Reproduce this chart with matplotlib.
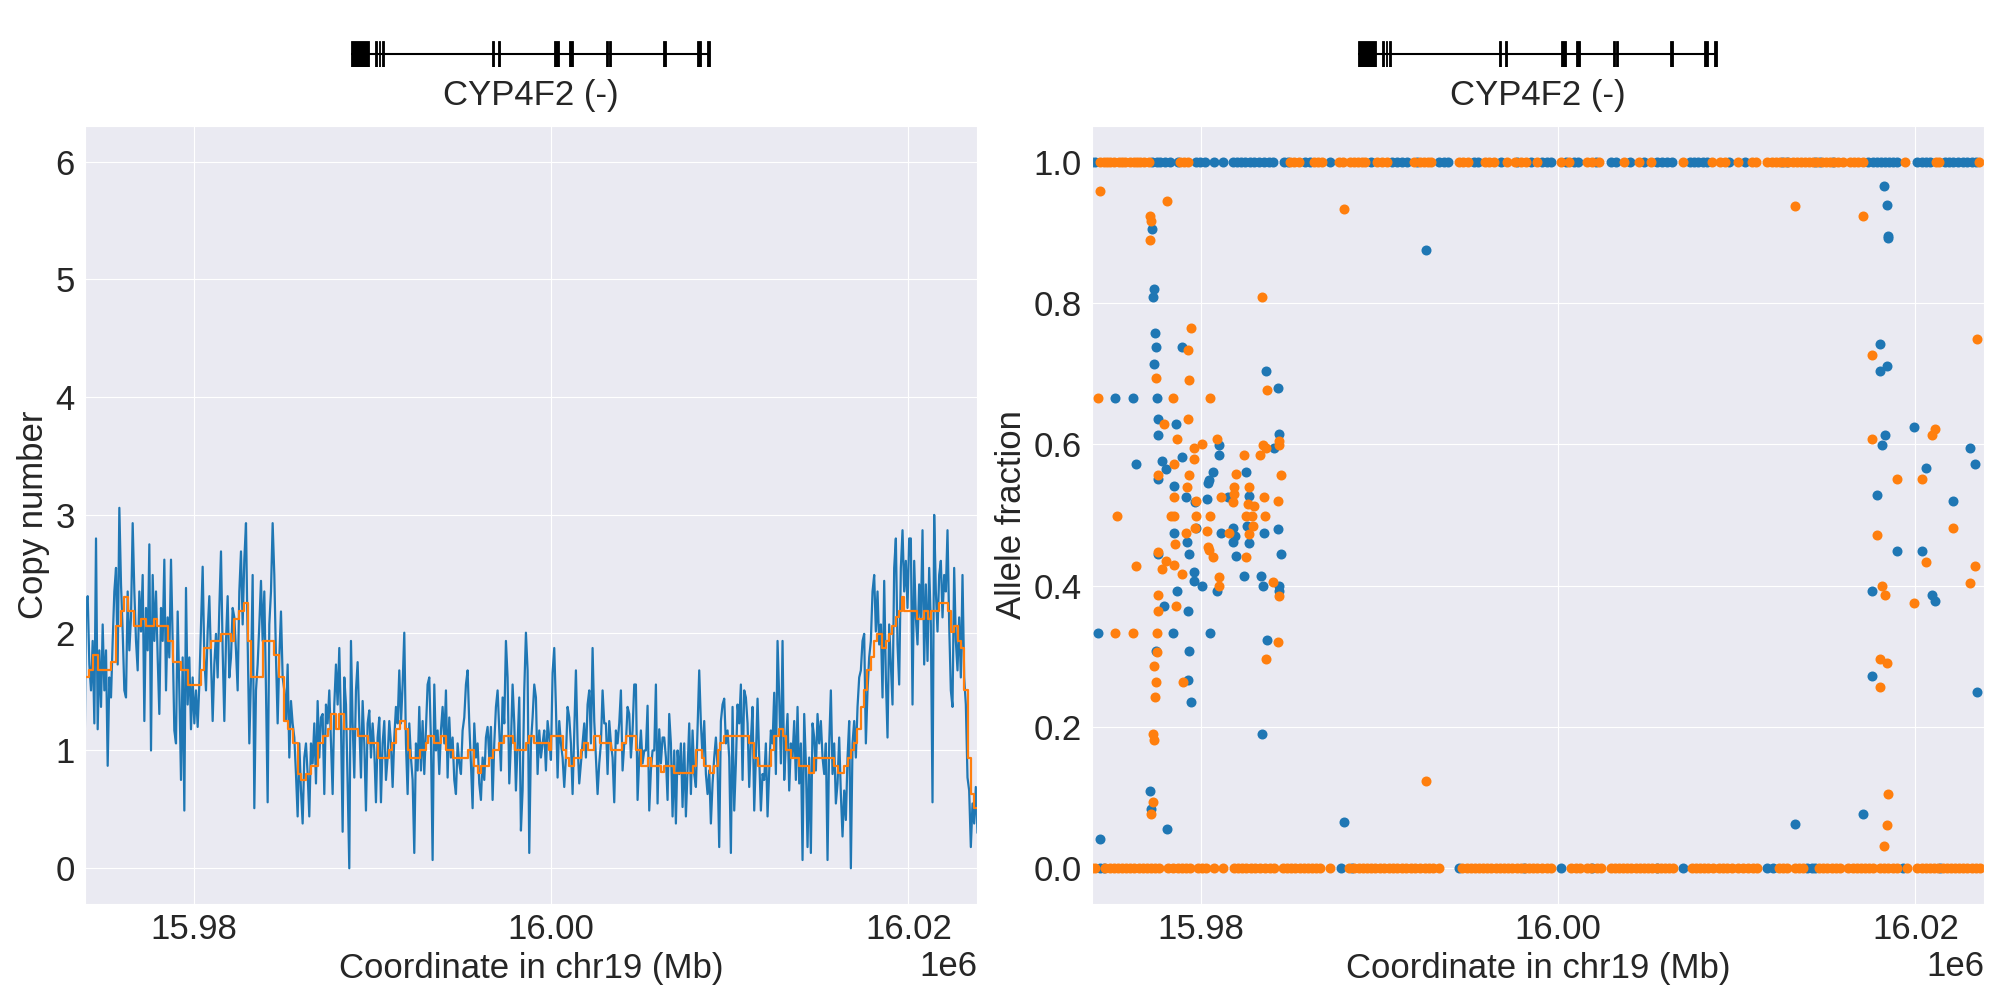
import matplotlib
matplotlib.use('Agg')
import matplotlib.pyplot as plt
from matplotlib.patches import Rectangle
import numpy as np
import seaborn as sns

region = (15973900, 16023840)
gene_label = 'CYP4F2 (-)'
gene_start, gene_end = 15988834, 16008884
exon_starts = [15988834, 15990150, 15990350, 15990555, 15996725, 15997020,
               16000160, 16001010, 16003060, 16003262, 16006255, 16008150, 16008725]
exon_ends = [15989790, 15990250, 15990455, 15990675, 15996810, 15997125,
             16000435, 16001215, 16003165, 16003370, 16006420, 16008390, 16008884]

# copy number, one value per bin
cn_start = 15973886
cn_step = 93.25
cn_values = [
    0.69, 2.24, 2.31, 1.73, 1.51, 1.93, 1.23, 2.80, 1.18, 1.85,
    1.37, 2.07, 1.51, 1.85, 0.87, 1.62, 1.45, 1.93, 2.35, 2.55,
    1.73, 3.06, 2.41, 2.01, 1.51, 1.45, 2.35, 1.85, 2.13, 2.93,
    2.35, 1.93, 1.68, 2.35, 2.01, 2.49, 1.25, 2.21, 1.85, 2.75,
    1.00, 2.49, 1.93, 2.35, 1.79, 1.31, 2.21, 1.93, 2.62, 1.51,
    2.13, 1.79, 2.62, 1.93, 1.17, 1.06, 2.18, 1.51, 0.75, 1.79,
    0.49, 2.38, 1.39, 1.79, 1.18, 1.62, 1.23, 1.51, 1.20, 1.56,
    2.07, 2.56, 1.79, 1.51, 2.01, 2.31, 1.79, 1.25, 1.73, 1.99,
    1.62, 2.21, 2.69, 1.85, 1.25, 1.93, 2.31, 1.62, 1.79, 2.21,
    2.13, 1.85, 1.51, 2.35, 2.69, 2.07, 2.62, 2.93, 1.93, 1.06,
    1.62, 2.49, 0.51, 1.51, 1.73, 2.07, 2.44, 1.93, 2.35, 1.51,
    0.56, 2.07, 2.35, 2.93, 2.49, 1.79, 1.23, 1.79, 2.18, 1.62,
    1.51, 1.25, 1.73, 0.94, 1.42, 1.23, 1.11, 0.80, 0.44, 1.06,
    0.66, 0.38, 0.94, 1.06, 0.80, 0.44, 1.06, 0.89, 1.23, 0.72,
    1.42, 0.94, 1.28, 1.31, 0.63, 1.39, 1.23, 1.51, 1.08, 0.63,
    1.39, 1.73, 1.39, 1.87, 1.23, 0.31, 1.62, 1.39, 0.72, 0.00,
    1.93, 1.23, 0.77, 1.51, 1.75, 1.23, 0.77, 1.42, 1.06, 0.49,
    1.23, 1.34, 0.94, 1.23, 1.00, 0.56, 1.11, 1.28, 0.56, 1.06,
    1.25, 0.75, 0.94, 1.25, 1.06, 0.69, 1.11, 1.37, 1.23, 1.68,
    1.23, 1.56, 2.00, 1.06, 0.63, 1.23, 0.94, 0.75, 0.13, 1.06,
    0.83, 1.37, 0.83, 1.25, 0.80, 1.17, 1.56, 1.62, 1.08, 0.07,
    1.56, 1.00, 1.17, 0.80, 1.17, 1.37, 1.06, 1.51, 0.77, 1.28,
    0.94, 1.11, 0.75, 0.63, 1.06, 0.89, 0.80, 1.17, 1.28, 1.56,
    1.68, 1.23, 0.89, 0.51, 1.23, 0.94, 1.06, 0.72, 0.58, 0.94,
    0.75, 1.11, 1.20, 0.94, 1.20, 0.58, 1.06, 1.37, 1.51, 1.17,
    0.83, 1.45, 1.23, 1.93, 1.62, 0.72, 1.06, 1.56, 1.23, 0.66,
    1.06, 1.45, 0.32, 0.66, 1.51, 2.00, 1.68, 0.13, 1.06, 1.28,
    1.56, 1.45, 0.80, 1.17, 0.94, 1.06, 1.17, 0.83, 1.25, 1.11,
    0.92, 1.66, 1.87, 1.37, 0.77, 1.25, 1.06, 0.94, 0.69, 0.94,
    1.37, 1.28, 1.06, 0.63, 1.17, 1.68, 1.06, 0.72, 0.89, 1.06,
    1.23, 0.94, 1.39, 1.51, 1.06, 1.87, 1.25, 0.94, 0.63, 0.89,
    1.06, 1.51, 1.23, 1.23, 0.80, 1.25, 1.06, 0.94, 0.56, 1.17,
    1.06, 1.23, 1.51, 0.83, 1.06, 1.06, 1.37, 1.31, 0.94, 1.17,
    1.56, 1.56, 0.58, 0.94, 1.17, 0.89, 1.00, 1.00, 1.38, 0.49,
    0.83, 1.00, 1.00, 1.56, 0.55, 1.18, 0.89, 1.11, 1.11, 0.94,
    0.58, 1.31, 1.06, 0.44, 1.00, 0.38, 1.00, 0.80, 1.06, 0.52,
    1.06, 0.44, 0.83, 1.23, 0.63, 1.17, 0.80, 0.69, 1.17, 1.68,
    1.23, 0.94, 1.25, 0.80, 0.63, 0.83, 0.38, 0.72, 0.94, 1.11,
    0.86, 0.18, 1.25, 1.39, 1.44, 1.06, 1.17, 0.94, 0.13, 1.37,
    0.49, 0.89, 1.39, 1.23, 1.56, 0.75, 1.51, 1.45, 1.23, 0.69,
    1.08, 1.37, 0.49, 0.94, 1.44, 0.94, 0.49, 0.80, 0.75, 1.06,
    0.44, 0.83, 1.17, 1.06, 1.49, 0.80, 1.93, 1.45, 0.89, 1.93,
    0.75, 1.06, 1.31, 0.66, 1.06, 0.94, 1.25, 0.75, 1.37, 0.72,
    1.06, 0.07, 1.31, 0.89, 0.18, 0.94, 0.13, 1.23, 1.11, 0.83,
    1.31, 1.06, 1.25, 0.94, 0.80, 1.06, 0.07, 1.06, 1.51, 0.80,
    1.06, 0.55, 0.72, 1.11, 0.63, 0.27, 0.66, 0.41, 0.94, 1.25,
    0.00, 1.06, 1.25, 0.94, 1.37, 1.62, 1.68, 1.93, 1.99, 1.06,
    1.51, 1.79, 1.93, 2.35, 2.49, 2.01, 2.35, 1.90, 2.07, 1.45,
    2.44, 1.62, 1.11, 2.07, 1.73, 1.39, 2.55, 2.80, 1.90, 1.56,
    2.55, 2.87, 2.35, 2.61, 2.21, 2.80, 2.80, 1.39, 2.61, 2.13,
    1.90, 2.41, 2.13, 2.87, 1.73, 2.41, 1.76, 2.55, 2.07, 0.56,
    3.00, 2.35, 2.01, 2.49, 2.61, 2.13, 2.49, 2.35, 2.87, 2.07,
    1.51, 1.37, 2.55, 1.93, 1.68, 2.13, 1.62, 2.49, 1.62, 1.39,
    0.77, 0.66, 0.18, 0.55, 0.38, 0.69, 0.30,
]

# smoothed copy number segments (start position, level)
seg_starts = [
    15973890, 15974170, 15974350, 15974630, 15975380, 15975660, 15975940, 15976120,
    15976310, 15976680, 15977060, 15977340, 15977770, 15977950, 15978550, 15978830,
    15979300, 15979670, 15980410, 15980600, 15980970, 15981530, 15982090, 15982280,
    15982560, 15982800, 15983060, 15983210, 15983860, 15984520, 15984800, 15985080,
    15985260, 15985540, 15985820, 15986010, 15986290, 15986570, 15986940, 15987220,
    15987500, 15987690, 15987970, 15988150, 15988430, 15989180, 15989740, 15990300,
    15990670, 15990950, 15991080, 15991320, 15991570, 15991830, 15991980, 15992130,
    15992690, 15993000, 15993130, 15993470, 15993840, 15994120, 15994490, 15995330,
    15995710, 15995890, 15996080, 15996550, 15996730, 15997110, 15997390, 15997850,
    15997980, 15998600, 15998780, 15999030, 15999900, 16000000, 16000650, 16000840,
    16001020, 16001300, 16001680, 16001860, 16002050, 16002420, 16002760, 16003350,
    16003950, 16004190, 16004750, 16005030, 16005410, 16005590, 16006150, 16006340,
    16006900, 16007460, 16007920, 16008110, 16008430, 16008580, 16008910, 16009130,
    16009320, 16009470, 16009690, 16011090, 16011370, 16011560, 16012310, 16012490,
    16012770, 16012960, 16013140, 16013420, 16013890, 16014450, 16014730, 16015850,
    16016040, 16016410, 16016600, 16016780, 16016970, 16017150, 16017340, 16017530,
    16017710, 16017900, 16018090, 16018270, 16018550, 16018740, 16018930, 16019110,
    16019300, 16019490, 16019670, 16019770, 16020510, 16020850, 16021070, 16021260,
    16021720, 16022190, 16022380, 16022560, 16022750, 16022940, 16023120, 16023310,
    16023500, 16023680,
]
seg_levels = [
    1.62, 1.68, 1.81, 1.68, 1.75, 2.06, 2.18, 2.30,
    2.18, 2.06, 2.12, 2.06, 2.12, 2.06, 1.93, 1.75,
    1.68, 1.56, 1.68, 1.87, 1.93, 1.99, 1.93, 2.12,
    2.18, 2.25, 1.93, 1.62, 1.93, 1.81, 1.62, 1.25,
    1.18, 1.06, 0.80, 0.75, 0.80, 0.87, 1.06, 1.12,
    1.18, 1.31, 1.18, 1.31, 1.18, 1.12, 1.06, 0.94,
    0.94, 1.00, 1.06, 1.18, 1.25, 1.18, 1.00, 0.94,
    1.00, 1.06, 1.12, 1.06, 1.12, 1.00, 0.94, 1.00,
    0.87, 0.81, 0.87, 0.94, 1.00, 1.06, 1.12, 1.06,
    1.00, 1.06, 1.12, 1.06, 1.00, 1.12, 1.00, 0.94,
    0.87, 0.94, 1.00, 1.06, 1.00, 1.12, 1.06, 1.00,
    1.06, 1.12, 1.00, 0.87, 0.94, 0.87, 0.82, 0.87,
    0.81, 0.81, 0.87, 1.00, 0.94, 0.87, 0.81, 0.87,
    1.00, 1.06, 1.12, 1.06, 0.94, 0.87, 1.00, 1.12,
    1.18, 1.12, 1.00, 0.94, 0.87, 0.81, 0.94, 0.87,
    0.81, 0.87, 0.94, 1.00, 1.06, 1.18, 1.37, 1.51,
    1.68, 1.79, 1.93, 1.99, 1.87, 1.93, 1.99, 2.06,
    2.13, 2.18, 2.30, 2.18, 2.12, 2.18, 2.12, 2.18,
    2.25, 2.18, 2.01, 2.06, 1.93, 1.87, 1.51, 0.94,
    0.63, 0.51,
]
seg_end = 16023900

# allele fraction: variants sitting at 1.0 and 0.0
blue_top_pos = [
    15973920, 15974110, 15977280, 15977560, 15977740, 15978020, 15978300, 15978710,
    15979760, 15979980, 15980260, 15980760, 15981250, 15981810, 15982030, 15982260,
    15982500, 15982740, 15982970, 15983250, 15983520, 15983800, 15984050, 15984640,
    15984870, 15985860, 15986140, 15987220, 15989530, 15990700, 15990980, 15991260,
    15991540, 15992100, 15993320, 15993620, 15993850, 15995300, 15995520, 15996790,
    15997720, 15998470, 15999120, 15999370, 15999630, 16000430, 16000900, 16001120,
    16002110, 16002950, 16003230, 16004030, 16004810, 16005560, 16005840, 16006120,
    16006400, 16007390, 16007620, 16007860, 16008100, 16008320, 16009590, 16010470,
    16012520, 16012800, 16014390, 16014670, 16015410, 16017370, 16017610, 16017840,
    16018060, 16018300, 16018550, 16018770, 16018990, 16020110, 16020350, 16020600,
    16020820, 16021660, 16021900, 16022130, 16022410, 16022690, 16022910, 16023150,
    16023390,
]
orange_top_pos = [
    15974390, 15974570, 15974760, 15974950, 15975170, 15975410, 15975600, 15975790,
    15976030, 15976250, 15976440, 15976620, 15976850, 15977090, 15978860, 15979050,
    15979270, 15984980, 15985240, 15985480, 15986360, 15986580, 15986790, 15987720,
    15987960, 15988370, 15988600, 15988800, 15989030, 15989210, 15989870, 15990150,
    15990430, 15991920, 15992250, 15992480, 15992700, 15992890, 15994460, 15994700,
    15994960, 15995900, 15996140, 15996420, 15997170, 15997580, 15997910, 15998190,
    15998810, 16000150, 16000620, 16001640, 16001920, 16002290, 16003690, 16004530,
    16005190, 16006980, 16008600, 16009070, 16009350, 16010100, 16010840, 16011090,
    16011720, 16011960, 16012200, 16012430, 16012650, 16012890, 16013140, 16013360,
    16013580, 16013830, 16014070, 16014290, 16014520, 16014760, 16015000, 16015230,
    16015450, 16015690, 16015930, 16016340, 16016570, 16016810, 16017050, 16019420,
    16021160, 16021340, 16023540,
]
blue_bottom_pos = [
    15974390, 15974570, 15987850, 15988470, 15994460, 15998100, 16000190, 16001920,
    16005560, 16006980, 16011720, 16012020, 16013920, 16014200, 16014390, 16019290,
    16021380,
]
orange_bottom_pos = [
    15973920, 15974110, 15974670, 15974910, 15975130, 15975360, 15975600, 15975840,
    15976070, 15976290, 15976530, 15976770, 15977000, 15977220, 15977460, 15977650,
    15978170, 15978450, 15978710, 15978960, 15979200, 15979380, 15979830, 15980070,
    15980320, 15980760, 15981250, 15981850, 15982070, 15982310, 15982560, 15982820,
    15983060, 15983340, 15983620, 15983900, 15984080, 15984610, 15984830, 15985050,
    15985300, 15985540, 15985760, 15985990, 15986230, 15986470, 15986700, 15987220,
    15988280, 15988560, 15988840, 15989080, 15989310, 15989530, 15989770, 15990020,
    15990240, 15990520, 15990760, 15990980, 15991260, 15991510, 15991770, 15992010,
    15992290, 15992530, 15992760, 15993000, 15993320, 15994650, 15994890, 15995110,
    15995340, 15995580, 15995820, 15996050, 15996270, 15996510, 15996760, 15996980,
    15997200, 15997450, 15997690, 15997910, 15998140, 15998380, 15998620, 15998840,
    15999120, 15999370, 15999630, 16000710, 16000990, 16001230, 16001640, 16001870,
    16002160, 16002420, 16002950, 16003170, 16003410, 16003660, 16003880, 16004100,
    16004350, 16004590, 16004810, 16005040, 16005280, 16005520, 16005740, 16005970,
    16006210, 16006450, 16007490, 16007730, 16007950, 16008180, 16008420, 16008660,
    16009030, 16009260, 16009480, 16009720, 16010100, 16010380, 16010660, 16010900,
    16011160, 16012340, 16012580, 16012840, 16013270, 16013510, 16013730, 16014630,
    16014850, 16015080, 16015320, 16015560, 16015790, 16016250, 16016490, 16016720,
    16016940, 16017180, 16017430, 16017650, 16018020, 16018250, 16018490, 16018730,
    16018960, 16019520, 16020110, 16020350, 16020600, 16020820, 16021040, 16021290,
    16021530, 16021750, 16021980, 16022220, 16022460, 16022690, 16022910, 16023150,
    16023390, 16023620,
]

# allele fraction: variants in between
blue_mid_pos = [
    15977300, 15977370, 15977314, 15992589, 15977426, 15977482, 15978974, 15977370,
    15983637, 15984308, 15975188, 15976195, 15977538, 15977594, 15978601, 15977594,
    15984364, 15984084, 15981007, 15981007, 15978937, 15977818, 15978042, 15976363,
    15977594, 15980671, 15980448, 15980392, 15982518, 15978526, 15979161, 15980336,
    15981511, 15982686, 15979664, 15979720, 15981790, 15982592, 15984308, 15978489,
    15981119, 15981903, 15983525, 15979217, 15981790, 15982686, 15977594, 15979329,
    15981958, 15984476, 15979608, 15979608, 15980056, 15980895, 15982406, 15983357,
    15983469, 15984364, 15984364, 15978657, 15977930, 15979273, 15974237, 15978433,
    15980504, 15983693, 15977482, 15979329, 15979273, 15979440, 15983413, 15977147,
    15977240, 15978098, 15974349, 15988001,
    16018266, 16018433, 16018489, 16018489, 16018042, 16018042, 16018433, 16019944,
    16018321, 16018154, 16023077, 16023320, 16020615, 16017874, 16022126, 16018993,
    16020392, 16017594, 16020951, 16021119, 16017594, 16023469, 16017091, 16013286,
]
blue_mid_af = [
    0.905, 0.819, 0.809, 0.875, 0.758, 0.737, 0.737, 0.714,
    0.704, 0.680, 0.665, 0.665, 0.665, 0.636, 0.629, 0.613,
    0.615, 0.594, 0.599, 0.585, 0.582, 0.576, 0.565, 0.572,
    0.551, 0.560, 0.549, 0.545, 0.560, 0.541, 0.526, 0.523,
    0.526, 0.527, 0.518, 0.481, 0.482, 0.484, 0.480, 0.474,
    0.474, 0.470, 0.474, 0.461, 0.461, 0.460, 0.444, 0.444,
    0.442, 0.444, 0.419, 0.406, 0.400, 0.393, 0.413, 0.413,
    0.400, 0.399, 0.393, 0.393, 0.371, 0.364, 0.333, 0.333,
    0.333, 0.323, 0.307, 0.307, 0.266, 0.235, 0.190, 0.110,
    0.084, 0.056, 0.041, 0.066,
    0.966, 0.938, 0.895, 0.892, 0.742, 0.704, 0.710, 0.625,
    0.613, 0.599, 0.594, 0.572, 0.567, 0.528, 0.519, 0.449,
    0.449, 0.392, 0.387, 0.378, 0.272, 0.250, 0.077, 0.063,
]
orange_mid_pos = [
    15974349, 15978098, 15977184, 15977240, 15977147, 15983413, 15988001, 15979440,
    15979273, 15977482, 15979329, 15983693, 15974237, 15978433, 15980504, 15979273,
    15977930, 15978657, 15984364, 15984364, 15983469, 15983655, 15980914, 15980056,
    15979608, 15982406, 15983338, 15979608, 15978526, 15977594, 15979329, 15981958,
    15984476, 15979217, 15981896, 15982686, 15978489, 15981119, 15981846, 15983525,
    15984308, 15979720, 15981790, 15982630, 15982965, 15975300, 15978322, 15978489,
    15979720, 15980504, 15982518, 15982853, 15983581, 15979664, 15982928, 15979161,
    15980336, 15981567, 15982686, 15978545, 15980392, 15980448, 15977594, 15982518,
    15980671, 15978042, 15976363, 15977818, 15978526, 15978937, 15981007, 15981007,
    15984029, 15984364, 15977594, 15978601, 15977594, 15975188, 15976195, 15977538,
    15984308, 15983637, 15977538, 15977370, 15977482, 15978993, 15977426, 15977314,
    15977370, 15977314, 15977240, 15992589,
    16013286, 16017091, 16017594, 16023469, 16021119, 16020951, 16017594, 16018993,
    16020392, 16022126, 16017874, 16020615, 16023320, 16023077, 16018154, 16018321,
    16019944, 16018042, 16018433, 16018042, 16018489, 16018433, 16018266,
]
orange_mid_af = [
    0.958, 0.944, 0.923, 0.916, 0.889, 0.809, 0.933, 0.764,
    0.734, 0.694, 0.691, 0.677, 0.665, 0.665, 0.665, 0.636,
    0.629, 0.607, 0.605, 0.599, 0.599, 0.594, 0.607, 0.600,
    0.594, 0.585, 0.585, 0.579, 0.572, 0.556, 0.556, 0.558,
    0.556, 0.539, 0.539, 0.540, 0.526, 0.526, 0.529, 0.526,
    0.520, 0.519, 0.518, 0.515, 0.513, 0.499, 0.499, 0.499,
    0.499, 0.499, 0.499, 0.499, 0.499, 0.482, 0.485, 0.474,
    0.477, 0.474, 0.473, 0.459, 0.454, 0.450, 0.448, 0.440,
    0.440, 0.435, 0.428, 0.424, 0.429, 0.416, 0.412, 0.400,
    0.405, 0.385, 0.387, 0.371, 0.364, 0.333, 0.333, 0.333,
    0.320, 0.296, 0.306, 0.286, 0.263, 0.263, 0.242, 0.190,
    0.181, 0.094, 0.077, 0.124,
    0.937, 0.923, 0.726, 0.749, 0.621, 0.613, 0.608, 0.551,
    0.551, 0.481, 0.471, 0.433, 0.428, 0.404, 0.400, 0.387,
    0.375, 0.296, 0.290, 0.257, 0.105, 0.061, 0.032,
]

sns.set_style('darkgrid')
plt.rcParams['font.family'] = ['Liberation Sans', 'DejaVu Sans']
fontsize = 25

fig = plt.figure(figsize=(20, 10), dpi=100)
ax_cn = fig.add_axes([0.0423, 0.0964, 0.4462, 0.7774])
ax_af = fig.add_axes([0.5458, 0.0964, 0.4462, 0.7774])
ax_g1 = fig.add_axes([0.0423, 0.933, 0.4462, 0.026])
ax_g2 = fig.add_axes([0.5458, 0.933, 0.4462, 0.026])

# gene models
for ax in (ax_g1, ax_g2):
    ax.hlines(0.5, gene_start, gene_end, color='black', lw=1.5)
    for s, e in zip(exon_starts, exon_ends):
        ax.add_patch(Rectangle((s, 0), e - s, 1, facecolor='black', edgecolor='black', lw=0.6))
    ax.set_xlim(region)
    ax.set_ylim(0, 1)
    ax.axis('off')
    ax.text(0.5, -1.08, gene_label, transform=ax.transAxes, ha='center', va='center',
            fontsize=fontsize, color='.15')

# copy number
cn_pos = cn_start + cn_step * np.arange(len(cn_values))
ax_cn.plot(cn_pos, cn_values, color='C0', lw=1.6)
ax_cn.plot(seg_starts + [seg_end], seg_levels + [seg_levels[-1]], color='C1', lw=1.6,
           drawstyle='steps-post')
ax_cn.set_ylim(-0.3, 6.3)
ax_cn.set_ylabel('Copy number', fontsize=fontsize)

# allele fraction
blue_x = blue_top_pos + blue_bottom_pos + blue_mid_pos
blue_y = [1.0] * len(blue_top_pos) + [0.0] * len(blue_bottom_pos) + blue_mid_af
orange_x = orange_top_pos + orange_bottom_pos + orange_mid_pos
orange_y = [1.0] * len(orange_top_pos) + [0.0] * len(orange_bottom_pos) + orange_mid_af
ax_af.scatter(blue_x, blue_y, s=36, color='C0', linewidths=1.2)
ax_af.scatter(orange_x, orange_y, s=36, color='C1', linewidths=1.2)
ax_af.set_ylim(-0.05, 1.05)
ax_af.set_yticks([0.0, 0.2, 0.4, 0.6, 0.8, 1.0])
ax_af.set_ylabel('Allele fraction', fontsize=fontsize)

for ax in (ax_cn, ax_af):
    ax.set_xlim(region)
    ax.ticklabel_format(axis='x', style='sci', scilimits=(6, 6), useOffset=False)
    ax.set_xticks([15980000, 16000000, 16020000])
    ax.tick_params(labelsize=fontsize)
    ax.xaxis.get_offset_text().set_fontsize(fontsize)
    ax.set_xlabel('Coordinate in chr19 (Mb)', fontsize=fontsize)

fig.savefig('out.png', dpi=100)
